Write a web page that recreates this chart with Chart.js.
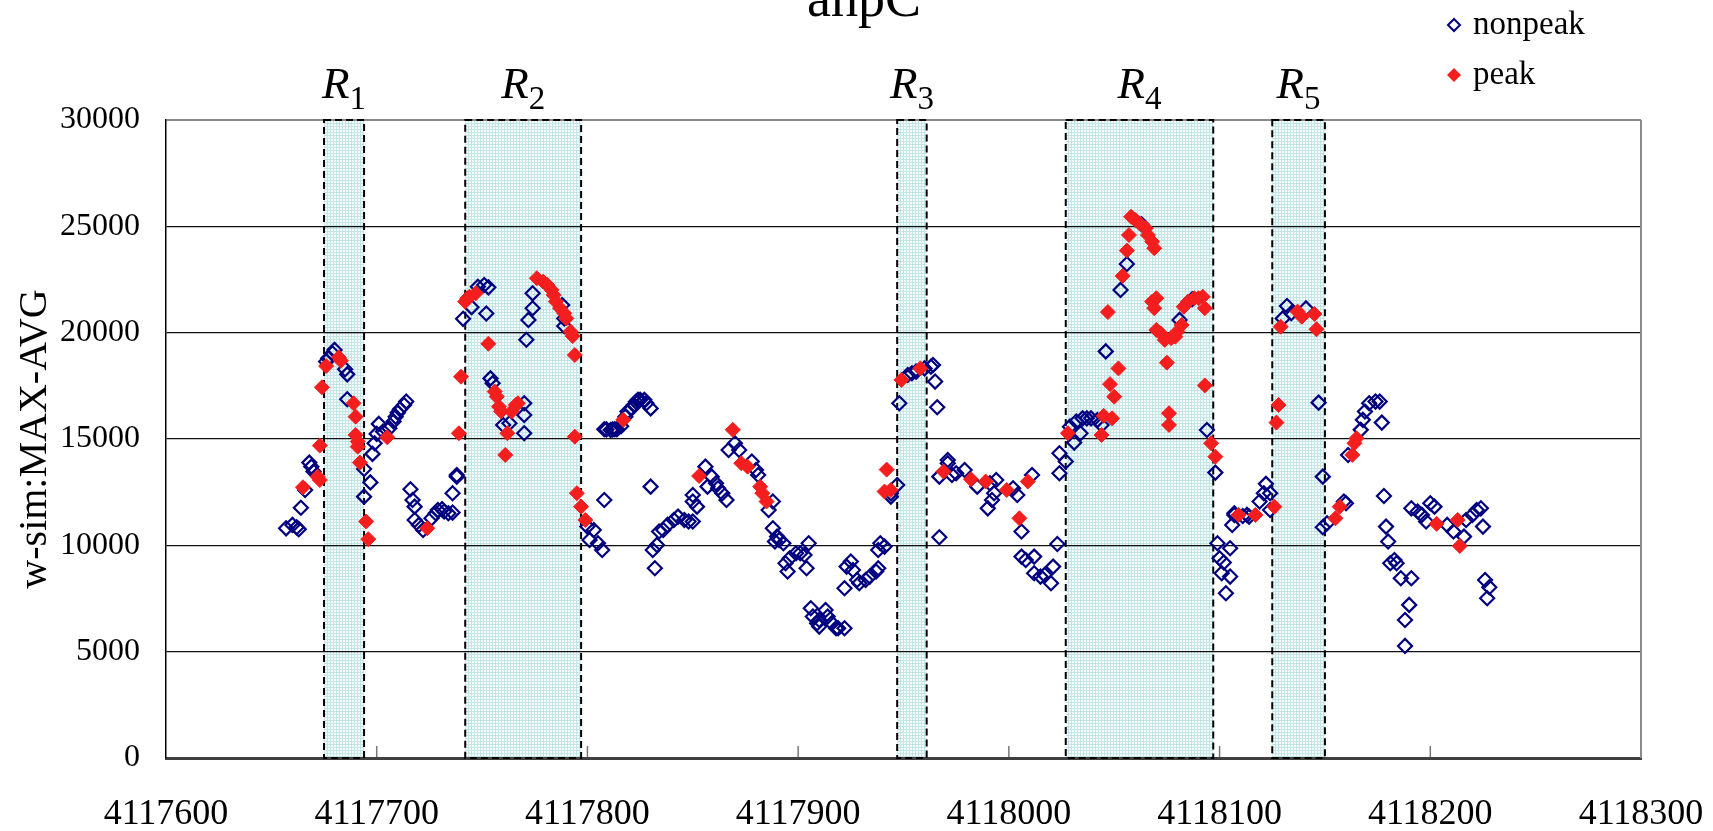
<!DOCTYPE html>
<html>
<head>
<meta charset="utf-8">
<script src="https://cdn.jsdelivr.net/npm/chart.js@4.4.1/dist/chart.umd.min.js"></script>
<style>
  html, body { margin: 0; padding: 0; background: #fff; }
  #wrap { width: 1713px; height: 831px; position: relative; }
</style>
</head>
<body>
<div id="wrap"><canvas id="chart"></canvas></div>
<script>
// nonpeak positions / values
const nonpeakPos = [
  4117657,4117660,4117662,4117663,4117664,4117666,4117668,4117669,4117670,4117676,
  4117677,4117679,4117680,4117685,4117686,4117686,4117694,4117694,4117697,4117698,
  4117699,4117700,4117701,4117703,4117706,4117708,4117709,4117710,4117711,4117713,
  4117714,4117716,4117717,4117718,4117718,4117720,4117722,4117726,4117728,4117729,
  4117731,4117732,4117734,4117736,4117736,4117738,4117738,4117741,4117745,4117748,
  4117751,4117753,4117752,4117754,4117755,4117760,4117763,4117770,4117770,4117770,
  4117771,4117772,4117774,4117774,4117788,4117789,4117789,4117800,4117801,4117803,
  4117805,4117807,4117808,4117808,4117809,4117811,4117812,4117813,4117814,4117816,
  4117818,4117819,4117821,4117822,4117823,4117824,4117825,4117827,4117828,4117830,
  4117830,4117831,4117832,4117833,4117834,4117836,4117838,4117841,4117843,4117846,
  4117848,4117850,4117850,4117850,4117852,4117856,4117857,4117859,4117861,4117862,
  4117864,4117866,4117867,4117870,4117872,4117878,4117880,4117881,4117886,4117888,
  4117888,4117889,4117890,4117891,4117893,4117894,4117895,4117896,4117899,4117901,
  4117903,4117904,4117905,4117906,4117907,4117909,4117910,4117910,4117913,4117914,
  4117916,4117918,4117919,4117922,4117922,4117923,4117925,4117926,4117928,4117929,
  4117932,4117934,4117937,4117938,4117938,4117939,4117941,4117944,4117944,4117947,
  4117948,4117952,4117954,4117956,4117960,4117963,4117964,4117965,4117966,4117967,
  4117967,4117971,4117971,4117973,4117975,4117979,4117985,4117990,4117991,4117992,
  4117993,4117994,4118002,4118004,4118006,4118006,4118008,4118011,4118012,4118012,
  4118015,4118017,4118020,4118021,4118023,4118024,4118024,4118027,4118029,4118031,
  4118032,4118034,4118035,4118037,4118039,4118042,4118044,4118046,4118053,4118056,
  4118063,4118081,4118087,4118094,4118098,4118099,4118100,4118101,4118102,4118103,
  4118105,4118105,4118106,4118107,4118107,4118111,4118113,4118114,4118119,4118121,
  4118122,4118124,4118124,4118130,4118132,4118134,4118141,4118147,4118149,4118149,
  4118151,4118159,4118160,4118161,4118167,4118168,4118169,4118171,4118174,4118176,
  4118177,4118178,4118179,4118180,4118181,4118183,4118184,4118186,4118188,4118188,
  4118190,4118191,4118191,4118194,4118196,4118198,4118200,4118202,4118208,4118211,
  4118216,4118217,4118220,4118222,4118224,4118225,4118226,4118227,4118228
];
const nonpeakVal = [
  10800,10960,10850,10760,11770,12600,13890,13700,13470,18640,
  18790,19030,19190,18280,18040,16870,13590,12290,12960,14300,
  14800,15240,15710,15350,15500,15820,16050,16240,16400,16600,
  16760,12640,12130,11820,11190,10960,10720,11270,11510,11660,
  11700,11590,11510,11540,12450,13230,13310,20650,21200,22160,
  22240,22130,20900,17850,17620,15660,15740,16680,16130,15270,
  19670,20600,21150,21850,21300,20670,20310,10880,10250,10720,
  10100,9780,12130,15460,15450,15420,15450,15460,15460,15600,
  16050,16290,16440,16600,16750,16840,16840,16840,16680,16440,
  12760,9780,8920,10020,10650,10720,10960,11190,11350,11190,
  11120,11120,12370,12060,11820,13700,12760,13230,12920,12680,
  12450,12130,14480,14800,14480,13940,13540,13310,11660,12060,
  10800,10180,10410,10250,10100,9160,8770,9390,9630,9630,
  9550,8920,10100,7040,6650,6340,6180,6490,6960,6650,
  6340,6100,6100,6100,7980,9000,9240,8840,8370,8220,
  8370,8530,8770,8920,9780,10100,9940,12450,12290,12840,
  16680,18010,18090,18170,18320,18400,18480,17700,16490,10380,
  13230,14010,13860,13310,13390,13540,12760,11740,12920,12130,
  12450,13070,12680,12370,10650,9470,9310,13310,9470,8690,
  8530,8610,8220,9000,10060,13390,14330,13940,15580,14830,
  15820,15270,15970,15970,15970,15890,15660,19120,22010,23230,
  25100,20600,21570,15420,13420,10100,9390,8690,9190,7750,
  8530,9860,10960,11430,11510,11380,11430,11350,12060,12450,
  12890,12450,11660,20670,21250,20910,21140,16710,13230,10850,
  11040,12060,11980,14250,15430,15900,16290,16680,16760,16760,
  15770,12320,10880,10180,9160,9310,9160,8450,6490,5270,
  7200,8450,11740,11590,11430,11120,11980,11820,10960,10650,
  10410,11190,11430,11660,11740,10880,8370,7510,8030
];

// peak positions / values
const peakPos = [
  4117665,4117672,4117673,4117673,4117674,4117676,4117682,4117683,4117689,4117690,
  4117690,4117691,4117691,4117692,4117695,4117696,4117705,4117724,4117739,4117740,
  4117742,4117743,4117744,4117747,4117753,4117756,4117757,4117758,4117759,4117761,
  4117762,4117764,4117766,4117767,4117776,4117779,4117781,4117783,4117784,4117785,
  4117787,4117789,4117790,4117792,4117793,4117794,4117794,4117795,4117797,4117799,
  4117817,4117853,4117869,4117873,4117876,4117882,4117883,4117885,4117941,4117942,
  4117944,4117949,4117958,4117969,4117982,4117989,4117999,4118005,4118009,4118028,
  4118044,4118045,4118047,4118048,4118049,4118050,4118052,4118054,4118056,4118057,
  4118058,4118060,4118062,4118065,4118066,4118068,4118068,4118069,4118069,4118070,
  4118070,4118072,4118074,4118075,4118076,4118076,4118077,4118079,4118080,4118082,
  4118083,4118085,4118088,4118090,4118092,4118093,4118093,4118096,4118098,4118109,
  4118117,4118126,4118127,4118128,4118129,4118137,4118139,4118145,4118146,4118155,
  4118157,4118163,4118164,4118165,4118203,4118213,4118214
];
const peakVal = [
  12730,13230,13070,14690,17430,18430,18840,18680,16680,16050,
  15190,14880,14640,13890,11120,10290,15080,10800,15270,17930,
  21460,21620,21690,21850,19480,17230,16990,16520,16300,14250,
  15270,16290,16600,16680,22560,22400,22240,22010,21770,21460,
  21150,20910,20670,20050,19840,18950,15110,12450,11820,11190,
  15900,13260,15430,13860,13700,12760,12450,12060,12530,13560,
  12600,17780,18320,13470,13110,13000,12600,11270,13000,15270,
  15190,16090,20970,17580,15970,16990,18320,22670,23860,24590,
  25450,25300,25140,24910,24590,24280,21460,23970,21150,21620,
  20130,19970,19660,18590,16210,15660,19740,19810,20050,20360,
  21220,21460,21620,21620,21690,21150,17520,14800,14170,11430,
  11430,11820,15770,16600,20280,20990,20750,20880,20160,11270,
  11820,14250,14800,15030,11010,11190,9970
];

// highlighted regions R1..R5
const regionNames = ['1', '2', '3', '4', '5'];
const regionStart = [4117675, 4117742, 4117947, 4118027, 4118125];
const regionEnd   = [4117694, 4117797, 4117961, 4118097, 4118150];

const chartTitle = 'ahpC';
const yTitle = 'w-sim:MAX-AVG';
const seriesNames = ['nonpeak', 'peak'];

const SERIF = '"Liberation Serif", "Times New Roman", serif';
const NAVY = '#000080';
const RED = '#f41e1e';

function toPoints(pos, val) {
  return pos.map((p, i) => ({ x: p, y: val[i] }));
}

let hatch = null;
function hatchPattern(ctx) {
  if (hatch) return hatch;
  const c = document.createElement('canvas');
  c.width = 3; c.height = 3;
  const g = c.getContext('2d');
  g.fillStyle = '#f7fcfc';
  g.fillRect(0, 0, 3, 3);
  g.fillStyle = '#c4e5e8';
  g.fillRect(0, 0, 3, 1);
  g.fillRect(0, 0, 1, 3);
  hatch = ctx.createPattern(c, 'repeat');
  return hatch;
}

function diamond(ctx, x, y, r) {
  ctx.beginPath();
  ctx.moveTo(x - r, y);
  ctx.lineTo(x, y - r);
  ctx.lineTo(x + r, y);
  ctx.lineTo(x, y + r);
  ctx.closePath();
}

const decorPlugin = {
  id: 'decor',
  beforeDraw(chart) {
    // region fill under the grid
    const { ctx, scales: { x, y } } = chart;
    const top = y.getPixelForValue(30000), bottom = y.getPixelForValue(0);
    ctx.save();
    ctx.fillStyle = hatchPattern(ctx);
    regionStart.forEach((s, i) => {
      const l = x.getPixelForValue(s), r = x.getPixelForValue(regionEnd[i]);
      ctx.fillRect(l, top, r - l, bottom - top);
    });
    ctx.restore();
  },
  beforeDatasetsDraw(chart) {
    const { ctx, chartArea: a, scales: { x, y } } = chart;
    ctx.save();
    // grey frame on the right
    ctx.strokeStyle = '#8a8a8a';
    ctx.lineWidth = 2;
    ctx.beginPath();
    ctx.moveTo(a.right, a.top);
    ctx.lineTo(a.right, a.bottom);
    ctx.stroke();
    // small tick marks inside the plot
    ctx.strokeStyle = '#777';
    ctx.lineWidth = 1.5;
    x.ticks.forEach(t => {
      if (t.value <= x.min || t.value >= x.max) return;
      const px = x.getPixelForValue(t.value);
      ctx.beginPath();
      ctx.moveTo(px, a.bottom - 1);
      ctx.lineTo(px, a.bottom - 12);
      ctx.stroke();
    });
    // dashed region boxes
    const top = y.getPixelForValue(30000), bottom = y.getPixelForValue(0);
    ctx.strokeStyle = '#000';
    ctx.lineWidth = 2;
    ctx.setLineDash([7, 4]);
    regionStart.forEach((s, i) => {
      const l = x.getPixelForValue(s), r = x.getPixelForValue(regionEnd[i]);
      ctx.strokeRect(l, top, r - l, bottom - top);
    });
    ctx.restore();
  },
  afterDraw(chart) {
    const { ctx, scales: { x } } = chart;
    ctx.save();
    ctx.fillStyle = '#000';
    ctx.textBaseline = 'alphabetic';

    // region labels R1..R5
    regionStart.forEach((s, i) => {
      const cx = (x.getPixelForValue(s) + x.getPixelForValue(regionEnd[i])) / 2;
      ctx.font = 'italic 45px ' + SERIF;
      const wR = ctx.measureText('R').width;
      ctx.font = '33px ' + SERIF;
      const wS = ctx.measureText(regionNames[i]).width;
      const left = cx - (wR + wS) / 2;
      ctx.font = 'italic 45px ' + SERIF;
      ctx.textAlign = 'left';
      ctx.fillText('R', left, 98);
      ctx.font = '33px ' + SERIF;
      ctx.fillText(regionNames[i], left + wR, 109);
    });

    // title, mostly above the top edge
    ctx.font = '54px ' + SERIF;
    ctx.textAlign = 'center';
    ctx.fillText(chartTitle, 864, 16);

    // legend
    ctx.textAlign = 'left';
    ctx.font = '33px ' + SERIF;
    ctx.strokeStyle = NAVY;
    ctx.lineWidth = 2;
    diamond(ctx, 1454, 25, 6);
    ctx.stroke();
    ctx.fillText(seriesNames[0], 1473, 34);
    ctx.fillStyle = RED;
    diamond(ctx, 1454, 75, 7);
    ctx.fill();
    ctx.fillStyle = '#000';
    ctx.fillText(seriesNames[1], 1473, 84);
    ctx.restore();
  }
};

new Chart(document.getElementById('chart'), {
  type: 'scatter',
  data: {
    datasets: [
      {
        label: seriesNames[0],
        data: toPoints(nonpeakPos, nonpeakVal),
        pointStyle: 'rectRot',
        pointRadius: 7,
        borderWidth: 2.2,
        borderColor: NAVY,
        backgroundColor: 'rgba(0,0,0,0)',
        order: 1
      },
      {
        label: seriesNames[1],
        data: toPoints(peakPos, peakVal),
        pointStyle: 'rectRot',
        pointRadius: 7.5,
        borderWidth: 1,
        borderColor: RED,
        backgroundColor: RED,
        order: 0
      }
    ]
  },
  options: {
    responsive: true,
    maintainAspectRatio: false,
    animation: false,
    layout: { padding: { top: 120, right: 72, bottom: 0, left: 0 } },
    plugins: { legend: { display: false }, tooltip: { enabled: false } },
    scales: {
      x: {
        type: 'linear',
        min: 4117600,
        max: 4118300,
        afterFit: s => { s.height = 73; s.paddingLeft = 0; s.paddingRight = 0; },
        ticks: {
          stepSize: 100,
          autoSkip: false,
          maxRotation: 0,
          padding: 35,
          color: '#000',
          font: { family: SERIF, size: 36 },
          callback: v => String(v)
        },
        grid: { display: false, drawTicks: false },
        border: { display: true, color: '#404040', width: 3 }
      },
      y: {
        min: 0,
        max: 30000,
        afterFit: s => { s.width = 166; s.paddingTop = 0; s.paddingBottom = 0; },
        ticks: {
          stepSize: 5000,
          padding: 26,
          color: '#000',
          font: { family: SERIF, size: 32 },
          callback: v => String(v)
        },
        grid: {
          drawTicks: false,
          color: c => (c.tick && c.tick.value === 30000) ? '#8a8a8a' : '#111',
          lineWidth: c => (c.tick && c.tick.value === 30000) ? 2 : 1.2
        },
        border: { display: true, color: '#000', width: 1.5 },
        title: {
          display: true,
          text: yTitle,
          color: '#000',
          font: { family: SERIF, size: 40 },
          padding: { top: 11, bottom: 0 }
        }
      }
    }
  },
  plugins: [decorPlugin]
});
</script>
</body>
</html>
